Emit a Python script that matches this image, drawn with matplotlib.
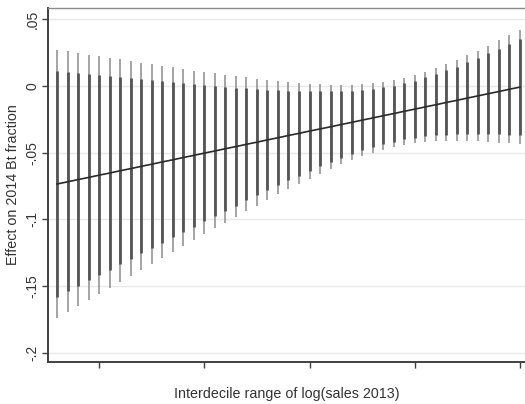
import matplotlib
matplotlib.use("Agg")
import matplotlib.pyplot as plt

plt.rcParams['font.family'] = ['Liberation Sans', 'DejaVu Sans']

# point estimates for each evaluation point
estimate = [-0.0735, -0.0719, -0.0702, -0.0686, -0.0669, -0.0653, -0.0636, -0.0620, -0.0603,
            -0.0587, -0.0570, -0.0554, -0.0537, -0.0521, -0.0504, -0.0488, -0.0471, -0.0455,
            -0.0438, -0.0422, -0.0405, -0.0389, -0.0372, -0.0356, -0.0339, -0.0323, -0.0307,
            -0.0290, -0.0274, -0.0257, -0.0241, -0.0224, -0.0208, -0.0191, -0.0175, -0.0158,
            -0.0142, -0.0125, -0.0109, -0.0092, -0.0076, -0.0059, -0.0043, -0.0026, -0.0010]
# half-width of outer (95%) interval
half95 = [0.1006, 0.0977, 0.0948, 0.0919, 0.0890, 0.0861, 0.0833, 0.0804, 0.0775,
          0.0747, 0.0719, 0.0691, 0.0663, 0.0635, 0.0607, 0.0580, 0.0553, 0.0526,
          0.0500, 0.0474, 0.0449, 0.0424, 0.0401, 0.0378, 0.0356, 0.0335, 0.0316,
          0.0298, 0.0283, 0.0270, 0.0260, 0.0254, 0.0250, 0.0251, 0.0255, 0.0262,
          0.0273, 0.0286, 0.0302, 0.0319, 0.0339, 0.0360, 0.0382, 0.0405, 0.0429]
# half-width of inner (90%) interval
half90 = [0.0845, 0.0820, 0.0796, 0.0771, 0.0747, 0.0723, 0.0699, 0.0675, 0.0651,
          0.0627, 0.0603, 0.0580, 0.0556, 0.0533, 0.0510, 0.0487, 0.0464, 0.0442,
          0.0420, 0.0398, 0.0377, 0.0356, 0.0336, 0.0317, 0.0298, 0.0281, 0.0265,
          0.0250, 0.0237, 0.0227, 0.0218, 0.0213, 0.0210, 0.0210, 0.0214, 0.0220,
          0.0229, 0.0240, 0.0253, 0.0268, 0.0284, 0.0302, 0.0321, 0.0340, 0.0360]
x_points = list(range(len(estimate)))
x_ticks = [4, 14, 24, 34, 44]
y_ticks = [-0.2, -0.15, -0.1, -0.05, 0, 0.05]
y_ticklabels = ["-.2", "-.15", "-.1", "-.05", "0", ".05"]

fig = plt.figure(figsize=(5.25, 4.04), dpi=100)
ax = fig.add_axes([48 / 525, 42 / 404, 1 - 48 / 525, (362 - 8) / 404])

for yt in y_ticks:
    ax.axhline(yt, color="#e9e9e9", lw=1.0, zorder=0)

lo95 = [e - h for e, h in zip(estimate, half95)]
hi95 = [e + h for e, h in zip(estimate, half95)]
lo90 = [e - h for e, h in zip(estimate, half90)]
hi90 = [e + h for e, h in zip(estimate, half90)]

ax.vlines(x_points, lo95, hi95, color="#8c8c8c", lw=1.1, zorder=2)
ax.vlines(x_points, lo90, hi90, color="#555555", lw=2.0, zorder=3)
ax.plot(x_points, estimate, color="#2a2a2a", lw=1.2, zorder=4)

ax.set_xlim(-0.855, 44.48)
ax.set_ylim(-0.2067, 0.0582)
ax.set_xticks(x_ticks)
ax.set_xticklabels([])
ax.set_yticks(y_ticks)
ax.set_yticklabels(y_ticklabels, rotation=90, va="center")

for s in ["left", "bottom"]:
    ax.spines[s].set_color("#404040")
    ax.spines[s].set_linewidth(1.4)
ax.spines["top"].set_color("#8a8a8a")
ax.spines["top"].set_linewidth(1.0)
ax.spines["right"].set_visible(False)

ax.tick_params(axis="both", colors="#404040", length=4, width=1.0, labelsize=10,
               labelcolor="#333333")
ax.tick_params(axis="y", pad=2)

fig.text((48 + 525) / 2 / 525, 1 - 394 / 404, "Interdecile range of log(sales 2013)",
         fontsize=10.3, color="#333333", ha="center", va="center")
fig.text(13 / 525, 1 - 185 / 404, "Effect on 2014 Bt fraction", rotation=90,
         fontsize=10.3, color="#333333", ha="center", va="center")

fig.savefig("out.png", dpi=100, facecolor="white")
